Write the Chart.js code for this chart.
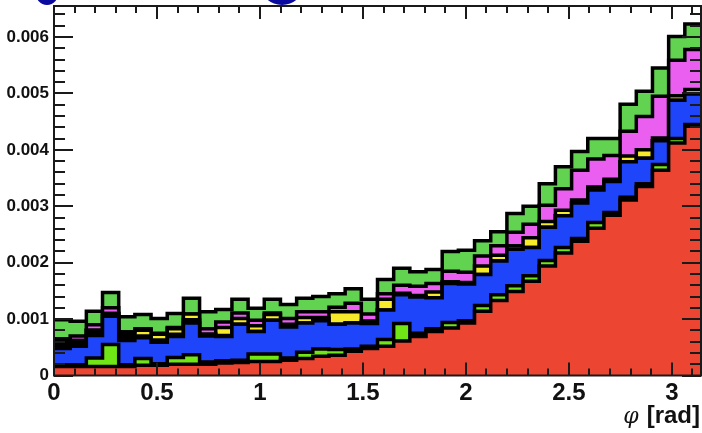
<!DOCTYPE html>
<html>
<head>
<meta charset="utf-8">
<script src="https://cdn.jsdelivr.net/npm/chart.js@4"></script>
<style>
  html, body { margin: 0; padding: 0; background: #fff; }
  canvas { display: block; }
</style>
</head>
<body>
<canvas id="phiChart" width="702" height="433"></canvas>
<script>
// 40 bins over [0, pi]
const nBins = 40;
const binEdges = Array.from({ length: nBins + 1 }, (_, i) => i * Math.PI / nBins);

// stacked components, bottom to top
const redVals = [0.00016, 0.00016, 0.00016, 0.00016, 0.00016, 0.00018, 0.00018, 0.00020, 0.00020, 0.00020,
  0.00022, 0.00023, 0.00025, 0.00025, 0.00027, 0.00030, 0.00034, 0.00036, 0.00043, 0.00048,
  0.00052, 0.00061, 0.00069, 0.00078, 0.00084, 0.00093, 0.00114, 0.00133, 0.00149, 0.00167,
  0.00194, 0.00217, 0.00238, 0.00261, 0.00284, 0.00311, 0.00335, 0.00364, 0.00412, 0.00442];
const limeVals = [0.00003, 0.00003, 0.00015, 0.00039, 0.00003, 0.00012, 0.00003, 0.00012, 0.00017, 0.00004,
  0.00004, 0.00004, 0.00013, 0.00013, 0.00004, 0.00011, 0.00013, 0.00010, 0.00004, 0.00004,
  0.00012, 0.00031, 0.00006, 0.00005, 0.00010, 0.00004, 0.00010, 0.00010, 0.00010, 0.00010,
  0.00010, 0.00010, 0.00005, 0.00010, 0.00005, 0.00005, 0.00005, 0.00010, 0.00008, 0.00003];
const blueVals = [0.00029, 0.00033, 0.00040, 0.00050, 0.00043, 0.00037, 0.00038, 0.00037, 0.00056, 0.00046,
  0.00043, 0.00064, 0.00040, 0.00060, 0.00055, 0.00052, 0.00050, 0.00045, 0.00046, 0.00040,
  0.00052, 0.00051, 0.00064, 0.00055, 0.00069, 0.00065, 0.00055, 0.00060, 0.00065, 0.00050,
  0.00059, 0.00056, 0.00063, 0.00058, 0.00055, 0.00063, 0.00045, 0.00042, 0.00068, 0.00054];
const blackVals = [0.00017, 0.00010, 0.00009, 0.00005, 0.00015, 0.00003, 0.00004, 0.00004, 0.00006, 0.00003,
  0.00002, 0, 0, 0, 0.00003, 0, 0.00004, 0, 0, 0.00004,
  0, 0, 0, 0, 0, 0, 0, 0, 0, 0,
  0, 0, 0, 0, 0, 0, 0, 0, 0, 0];
const yellowVals = [0, 0, 0, 0, 0, 0.00010, 0.00010, 0.00010, 0.00010, 0,
  0.00014, 0.00010, 0.00010, 0.00010, 0.00002, 0.00010, 0.00002, 0.00022, 0.00020, 0,
  0.00019, 0.00003, 0.00003, 0.00010, 0.00003, 0.00003, 0.00015, 0.00010, 0.00006, 0.00017,
  0.00010, 0.00010, 0.00005, 0.00005, 0.00004, 0.00010, 0.00015, 0.00005, 0.00008, 0.00008];
const magentaVals = [0, 0.00008, 0.00010, 0.00010, 0, 0.00003, 0.00002, 0.00002, 0, 0.00010,
  0.00010, 0.00010, 0.00010, 0.00003, 0.00010, 0.00010, 0.00010, 0.00008, 0.00015, 0.00013,
  0.00010, 0.00014, 0.00016, 0.00015, 0.00019, 0.00018, 0.00018, 0.00017, 0.00024, 0.00024,
  0.00029, 0.00038, 0.00053, 0.00050, 0.00042, 0.00044, 0.00059, 0.00074, 0.00063, 0.00071];
const greenVals = [0.00034, 0.00026, 0.00024, 0.00027, 0.00027, 0.00025, 0.00026, 0.00025, 0.00028, 0.00030,
  0.00022, 0.00024, 0.00021, 0.00024, 0.00025, 0.00024, 0.00027, 0.00024, 0.00026, 0.00026,
  0.00025, 0.00030, 0.00026, 0.00025, 0.00035, 0.00039, 0.00027, 0.00025, 0.00033, 0.00032,
  0.00038, 0.00039, 0.00033, 0.00036, 0.00030, 0.00048, 0.00045, 0.00050, 0.00042, 0.00045];

const xTicks = [0, 0.5, 1, 1.5, 2, 2.5, 3];
const yTicks = [0, 0.001, 0.002, 0.003, 0.004, 0.005, 0.006];

const components = [
  { name: 'red', vals: redVals, color: '#ec4632' },
  { name: 'lime', vals: limeVals, color: '#70e616' },
  { name: 'blue', vals: blueVals, color: '#1f45fa' },
  { name: 'black', vals: blackVals, color: '#000000' },
  { name: 'yellow', vals: yellowVals, color: '#f6ea2a' },
  { name: 'magenta', vals: magentaVals, color: '#ea5ff0' },
  { name: 'green', vals: greenVals, color: '#62d350' },
];

// histogram as a step line: one point per lower edge, last value repeated at pi
const toSteps = vals => binEdges.map((x, i) => ({ x, y: vals[Math.min(i, vals.length - 1)] }));

const datasets = components.map((c, i) => ({
  label: c.name,
  data: toSteps(c.vals),
  stepped: 'before',
  backgroundColor: c.color,
  borderColor: '#000',
  borderWidth: 3.5,
  borderJoinStyle: 'miter',
  pointRadius: 0,
  fill: i === 0 ? 'origin' : '-1',
}));

const FONT = '"Liberation Sans", Arial, Helvetica, sans-serif';

// ROOT-like frame: box plus inward ticks on all four sides
const framePlugin = {
  id: 'frame',
  beforeDraw(chart) {
    const { ctx } = chart;
    ctx.save();
    ctx.fillStyle = '#fff';
    ctx.fillRect(0, 0, chart.width, chart.height);
    // bits of a cut-off blue heading above the frame
    ctx.fillStyle = '#0a0a9e';
    ctx.beginPath(); ctx.ellipse(47, -9, 12, 14, 0, 0, Math.PI * 2); ctx.fill();
    ctx.beginPath(); ctx.ellipse(282, -14, 21, 19, 0, 0, Math.PI * 2); ctx.fill();
    ctx.restore();
  },
  afterDatasetsDraw(chart) {
    const { ctx, chartArea: a, scales: { x, y } } = chart;
    ctx.save();
    ctx.strokeStyle = '#1a1a1a';
    ctx.lineWidth = 2;
    ctx.beginPath();
    for (let k = 0; k <= 31; k++) {
      const px = Math.round(x.getPixelForValue(k / 10));
      const len = k % 5 === 0 ? 13 : 7;
      ctx.moveTo(px, a.bottom); ctx.lineTo(px, a.bottom - len);
      ctx.moveTo(px, a.top); ctx.lineTo(px, a.top + len);
    }
    for (let k = 0; k <= 32; k++) {
      const v = k * 0.0002;
      if (v > y.max) break;
      const py = Math.round(y.getPixelForValue(v));
      const len = k % 5 === 0 ? 19 : 11;
      ctx.moveTo(a.left, py); ctx.lineTo(a.left + len, py);
      ctx.moveTo(a.right, py); ctx.lineTo(a.right - len, py);
    }
    ctx.stroke();
    ctx.strokeRect(a.left, a.top, a.right - a.left, a.bottom - a.top);

    // axis title: italic phi + bold unit
    ctx.fillStyle = '#111';
    ctx.textBaseline = 'alphabetic';
    ctx.textAlign = 'right';
    ctx.font = 'bold 24px ' + FONT;
    const unit = '[rad]';
    const right = 700;
    ctx.fillText(unit, right, 423);
    const w = ctx.measureText(unit).width;
    ctx.font = 'italic 22px "DejaVu Serif", serif';
    ctx.fillText('\u03C6', right - w - 8, 423);
    ctx.restore();
  }
};

new Chart(document.getElementById('phiChart'), {
  type: 'line',
  data: { datasets },
  options: {
    responsive: false,
    animation: false,
    layout: { padding: { top: 6, right: 1, left: 0, bottom: 0 } },
    plugins: { legend: { display: false }, tooltip: { enabled: false } },
    scales: {
      x: {
        type: 'linear',
        min: 0,
        max: Math.PI,
        grid: { display: false, drawTicks: false },
        border: { display: false },
        afterBuildTicks: s => { s.ticks = xTicks.map(v => ({ value: v })); },
        afterFit: s => { s.height = 57.5; s.paddingLeft = 0; s.paddingRight = 0; },
        ticks: {
          autoSkip: false,
          maxRotation: 0,
          padding: 3,
          color: '#111',
          font: { family: FONT, size: 24, weight: 'bold' },
          callback: v => String(v)
        }
      },
      y: {
        type: 'linear',
        stacked: true,
        min: 0,
        max: 0.00655,
        grid: { display: false, drawTicks: false },
        border: { display: false },
        afterBuildTicks: s => { s.ticks = yTicks.map(v => ({ value: v })); },
        afterFit: s => { s.width = 54; s.paddingTop = 0; s.paddingBottom = 0; },
        ticks: {
          autoSkip: false,
          padding: 5,
          color: '#111',
          font: { family: FONT, size: 17, weight: 'bold' },
          callback: v => (v === 0 ? '0' : v.toFixed(3))
        }
      }
    }
  },
  plugins: [framePlugin]
});
</script>
</body>
</html>
